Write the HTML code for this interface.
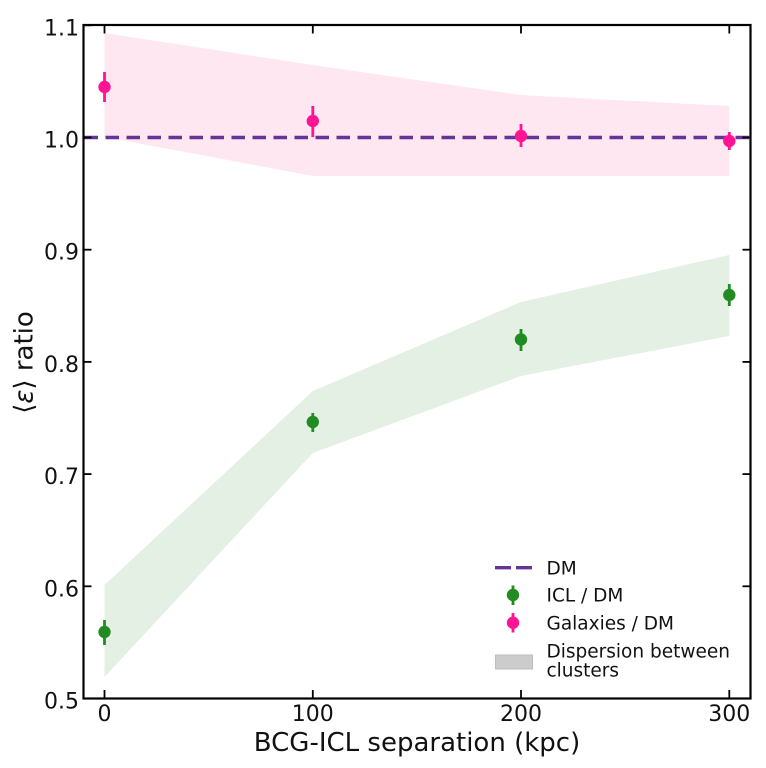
<!DOCTYPE html>
<html>
<head>
<meta charset="utf-8">
<style>
  html,body{margin:0;padding:0;background:#fff;}
  svg{display:block;}
  text{font-family:"DejaVu Sans","Liberation Sans",sans-serif;fill:#111;}
</style>
</head>
<body>
<svg width="766" height="768" viewBox="0 0 766 768" xmlns="http://www.w3.org/2000/svg">
  <rect x="0" y="0" width="766" height="768" fill="#fff"/>

  <!-- bands -->
  <polygon points="104.5,33 312.8,65 521,95 729.3,106 729.3,176 521,176 312.8,176 104.5,137" fill="#ffe7f1"/>
  <polygon points="104.5,585 312.8,391 521,302 729.3,255 729.3,336 521,376 312.8,453 104.5,677" fill="#e5f0e5"/>

  <!-- DM dashed line -->
  <line x1="84.5" y1="137.5" x2="750" y2="137.5" stroke="#663399" stroke-width="3.4" stroke-dasharray="13.5 7.5"/>

  <!-- pink points -->
  <g stroke="#ff1493" stroke-width="2.8" fill="#ff1493">
    <line x1="104.5" y1="72" x2="104.5" y2="102"/>
    <line x1="312.8" y1="106" x2="312.8" y2="137"/>
    <line x1="521" y1="124" x2="521" y2="147"/>
    <line x1="729.3" y1="132" x2="729.3" y2="150"/>
  </g>
  <g fill="#ff1493">
    <circle cx="104.5" cy="87" r="6.2"/>
    <circle cx="312.8" cy="121" r="6.2"/>
    <circle cx="521" cy="136" r="6.2"/>
    <circle cx="729.3" cy="141" r="6.2"/>
  </g>

  <!-- green points -->
  <g stroke="#228b22" stroke-width="2.8">
    <line x1="104.5" y1="620" x2="104.5" y2="645"/>
    <line x1="312.8" y1="413" x2="312.8" y2="432"/>
    <line x1="521" y1="329" x2="521" y2="351"/>
    <line x1="729.3" y1="284" x2="729.3" y2="306"/>
  </g>
  <g fill="#228b22">
    <circle cx="104.5" cy="632" r="6.2"/>
    <circle cx="312.8" cy="422" r="6.2"/>
    <circle cx="521" cy="339.5" r="6.2"/>
    <circle cx="729.3" cy="295" r="6.2"/>
  </g>

  <!-- spines -->
  <rect x="83.5" y="25" width="667" height="673.5" fill="none" stroke="#000" stroke-width="2.2"/>

  <!-- ticks -->
  <g stroke="#000" stroke-width="1.8">
    <!-- left -->
    <line x1="83.5" y1="25.3" x2="91.5" y2="25.3"/>
    <line x1="83.5" y1="137.5" x2="91.5" y2="137.5"/>
    <line x1="83.5" y1="249.7" x2="91.5" y2="249.7"/>
    <line x1="83.5" y1="361.9" x2="91.5" y2="361.9"/>
    <line x1="83.5" y1="474.1" x2="91.5" y2="474.1"/>
    <line x1="83.5" y1="586.3" x2="91.5" y2="586.3"/>
    <line x1="83.5" y1="698.5" x2="91.5" y2="698.5"/>
    <!-- right -->
    <line x1="742.5" y1="137.5" x2="750.5" y2="137.5"/>
    <line x1="742.5" y1="249.7" x2="750.5" y2="249.7"/>
    <line x1="742.5" y1="361.9" x2="750.5" y2="361.9"/>
    <line x1="742.5" y1="474.1" x2="750.5" y2="474.1"/>
    <line x1="742.5" y1="586.3" x2="750.5" y2="586.3"/>
    <!-- bottom -->
    <line x1="104.5" y1="698.5" x2="104.5" y2="690"/>
    <line x1="312.8" y1="698.5" x2="312.8" y2="690"/>
    <line x1="521" y1="698.5" x2="521" y2="690"/>
    <line x1="729.3" y1="698.5" x2="729.3" y2="690"/>
    <!-- top -->
    <line x1="104.5" y1="25" x2="104.5" y2="33.5"/>
    <line x1="312.8" y1="25" x2="312.8" y2="33.5"/>
    <line x1="521" y1="25" x2="521" y2="33.5"/>
    <line x1="729.3" y1="25" x2="729.3" y2="33.5"/>
  </g>

  <!-- y tick labels -->
  <g font-size="22" text-anchor="end">
    <text x="79" y="35.5">1.1</text>
    <text x="79" y="147.5">1.0</text>
    <text x="79" y="259.7">0.9</text>
    <text x="79" y="371.9">0.8</text>
    <text x="79" y="484.1">0.7</text>
    <text x="79" y="596.3">0.6</text>
    <text x="79" y="708.5">0.5</text>
  </g>

  <!-- x tick labels -->
  <g font-size="22" text-anchor="middle">
    <text x="104.5" y="721">0</text>
    <text x="312.8" y="721">100</text>
    <text x="521" y="721">200</text>
    <text x="729.3" y="721">300</text>
  </g>

  <!-- axis labels -->
  <text x="417" y="751" font-size="26" text-anchor="middle">BCG-ICL separation (kpc)</text>
  <text x="32.5" y="362.5" font-size="26" text-anchor="middle" transform="rotate(-90 32.5 362.5)">⟨<tspan font-style="italic">ε</tspan>⟩ ratio</text>

  <!-- legend -->
  <line x1="495" y1="567.7" x2="532" y2="567.7" stroke="#663399" stroke-width="3.4" stroke-dasharray="16 5"/>
  <line x1="513" y1="585.5" x2="513" y2="605" stroke="#228b22" stroke-width="2.8"/>
  <circle cx="513" cy="595" r="6.2" fill="#228b22"/>
  <line x1="513" y1="613" x2="513" y2="632.5" stroke="#ff1493" stroke-width="2.8"/>
  <circle cx="513" cy="622.7" r="6.2" fill="#ff1493"/>
  <rect x="495.5" y="655" width="37" height="14" fill="#cccccc" stroke="#bdbdbd" stroke-width="1"/>
  <g font-size="18.5">
    <text x="546.5" y="574.3">DM</text>
    <text x="546.5" y="601.7">ICL / DM</text>
    <text x="546.5" y="629.3">Galaxies / DM</text>
    <text x="546.5" y="657.3">Dispersion between</text>
    <text x="546.5" y="676.7">clusters</text>
  </g>
</svg>
</body>
</html>
